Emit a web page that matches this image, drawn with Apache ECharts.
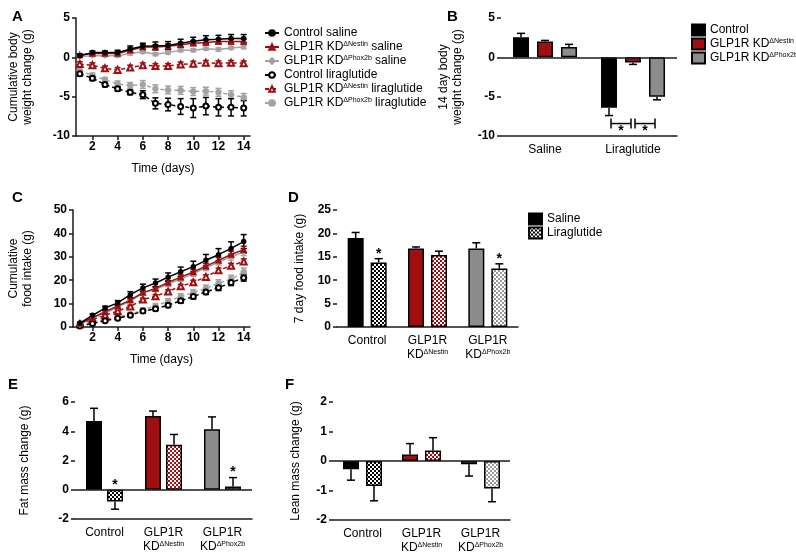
<!DOCTYPE html>
<html>
<head>
<meta charset="utf-8">
<script src="https://cdn.jsdelivr.net/npm/echarts@6/dist/echarts.min.js"></script>
<style>
  html, body { margin: 0; background: #fff; }
  #chart { width: 796px; height: 560px; }
</style>
</head>
<body>
<div id="chart"></div>
<script>
// ---- data ----
const days = [1, 2, 3, 4, 5, 6, 7, 8, 9, 10, 11, 12, 13, 14];
const dayTicks = [2, 4, 6, 8, 10, 12, 14];
const lineGroups = [
  'Control saline', 'GLP1R KDΔNestin saline', 'GLP1R KDΔPhox2b saline',
  'Control liraglutide', 'GLP1R KDΔNestin liraglutide', 'GLP1R KDΔPhox2b liraglutide',
];

// A: cumulative body weight change (g)
const weightCtrlSal = [0.2, 0.6, 0.6, 0.6, 1.05, 1.4, 1.45, 1.5, 1.8, 2.05, 2.25, 2.3, 2.4, 2.4];
const weightNesSal = [0.3, 0.5, 0.5, 0.5, 0.9, 1.3, 1.3, 1.4, 1.6, 1.8, 1.9, 2.0, 2.0, 2.0];
const weightPhoxSal = [0.1, 0.2, 0.2, 0.2, 0.5, 0.7, 0.4, 0.6, 0.9, 0.9, 1.1, 1.0, 1.2, 1.3];
const weightCtrlLira = [-2.1, -2.65, -3.45, -4.0, -4.45, -4.75, -5.85, -6.0, -6.25, -6.45, -6.2, -6.35, -6.35, -6.45];
const weightNesLira = [-0.85, -1.0, -1.4, -1.6, -1.3, -1.0, -1.1, -1.1, -0.9, -0.8, -0.7, -0.75, -0.7, -0.75];
const weightPhoxLira = [-1.65, -2.3, -2.85, -3.4, -3.6, -3.45, -4.0, -4.15, -4.2, -4.35, -4.3, -4.45, -4.75, -5.1];
const weightCtrlSalSem = [0.2, 0.2, 0.2, 0.3, 0.4, 0.4, 0.5, 0.5, 0.5, 0.5, 0.5, 0.5, 0.5, 0.5];
const weightNesSalSem = [0.15, 0.2, 0.2, 0.2, 0.3, 0.3, 0.3, 0.3, 0.3, 0.3, 0.3, 0.3, 0.3, 0.3];
const weightPhoxSalSem = [0.1, 0.1, 0.1, 0.15, 0.2, 0.2, 0.2, 0.2, 0.2, 0.2, 0.2, 0.2, 0.2, 0.2];
const weightCtrlLiraSem = [0.3, 0.3, 0.3, 0.3, 0.3, 0.5, 0.7, 0.8, 1.0, 1.2, 1.1, 1.1, 1.1, 1.0];
const weightNesLiraSem = [0.3, 0.3, 0.3, 0.3, 0.3, 0.3, 0.3, 0.3, 0.3, 0.3, 0.3, 0.3, 0.3, 0.3];
const weightPhoxLiraSem = [0.3, 0.3, 0.3, 0.4, 0.4, 0.5, 0.5, 0.5, 0.5, 0.5, 0.5, 0.5, 0.5, 0.5];

// C: cumulative food intake (g)
const foodCtrlSal = [1.7, 5.0, 8.1, 10.3, 13.8, 16.7, 18.8, 21.3, 23.6, 25.8, 28.5, 30.9, 33.6, 36.5];
const foodNesSal = [1.5, 4.0, 6.5, 9.0, 11.5, 14.7, 16.5, 19.0, 21.3, 23.5, 26.0, 28.5, 31.0, 33.0];
const foodPhoxSal = [1.3, 3.8, 6.0, 8.5, 11.0, 14.5, 16.0, 18.3, 20.5, 22.8, 25.3, 27.8, 30.0, 32.0];
const foodCtrlLira = [0.4, 1.5, 2.7, 3.7, 5.0, 6.8, 7.8, 9.3, 11.2, 13.0, 15.0, 16.8, 19.0, 21.0];
const foodNesLira = [1.2, 3.2, 5.0, 6.8, 8.8, 11.7, 13.1, 15.2, 17.4, 19.1, 21.4, 24.2, 26.2, 28.0];
const foodPhoxLira = [0.6, 2.2, 3.2, 4.2, 5.5, 7.2, 9.0, 11.0, 13.0, 14.7, 16.5, 18.7, 20.5, 23.5];
const foodCtrlSalSem = [0.3, 0.6, 0.8, 1.0, 1.3, 1.6, 1.7, 1.8, 2.0, 2.3, 2.5, 2.6, 2.8, 3.0];
const foodNesSalSem = [0.2, 0.3, 0.4, 0.5, 0.6, 0.7, 0.8, 0.9, 1.0, 1.1, 1.2, 1.3, 1.4, 1.5];
const foodPhoxSalSem = [0.2, 0.3, 0.4, 0.5, 0.6, 0.7, 0.8, 0.9, 1.0, 1.1, 1.2, 1.3, 1.4, 1.5];
const foodCtrlLiraSem = [0.2, 0.3, 0.4, 0.5, 0.6, 0.7, 0.8, 0.9, 1.0, 1.0, 1.1, 1.2, 1.3, 1.4];
const foodNesLiraSem = [0.2, 0.3, 0.4, 0.5, 0.5, 0.6, 0.7, 0.7, 0.8, 0.9, 0.9, 1.0, 1.0, 1.1];
const foodPhoxLiraSem = [0.3, 0.4, 0.5, 0.6, 0.7, 0.9, 1.0, 1.1, 1.2, 1.3, 1.4, 1.5, 1.6, 1.7];

// B: 14 day body weight change (g), per genotype: [saline, liraglutide]
const treatments = ['Saline', 'Liraglutide'];
const genotypes = ['Control', 'GLP1R KDΔNestin', 'GLP1R KDΔPhox2b'];
const weight14Ctrl = [2.55, -6.4];
const weight14Nes = [2.0, -0.65];
const weight14Phox = [1.3, -5.0];
const weight14CtrlSem = [0.5, 1.0];
const weight14NesSem = [0.15, 0.25];
const weight14PhoxSem = [0.35, 0.4];
const weight14SigPairs = [[0, 1], [1, 2]]; // within Liraglutide

// D, E, F: per genotype
const intakeSal = [19.0, 16.8, 16.8];
const intakeSalSem = [1.2, 0.3, 1.2];
const intakeLira = [13.8, 15.4, 12.5];
const intakeLiraSem = [0.8, 0.8, 1.0];
const intakeSig = [true, false, true];

const fatSal = [4.7, 5.05, 4.13];
const fatSalSem = [0.87, 0.33, 0.85];
const fatLira = [-0.8, 3.08, 0.23];
const fatLiraSem = [0.53, 0.7, 0.6];
const fatSig = [true, false, true];

const leanSal = [-0.28, 0.22, -0.11];
const leanSalSem = [0.37, 0.37, 0.4];
const leanLira = [-0.85, 0.36, -0.93];
const leanLiraSem = [0.5, 0.43, 0.45];

// ---- styling ----
const FONT = '"Liberation Sans", Arial, Helvetica, sans-serif';
const AX = '#1a1a1a';
const RED = '#a00f10';
const GRAY = '#8c8c8c';
const LGRAY = '#a3a3a3';
const genoColors = ['#000', RED, GRAY];
const BAR_W = 16;

function checker(color) {
  const c = document.createElement('canvas');
  c.width = 4;
  c.height = 4;
  const ctx = c.getContext('2d');
  ctx.fillStyle = '#fff';
  ctx.fillRect(0, 0, 4, 4);
  ctx.fillStyle = color;
  ctx.fillRect(0, 0, 2, 2);
  ctx.fillRect(2, 2, 2, 2);
  return { image: c, repeat: 'repeat' };
}

const supRich = {
  s: { fontSize: 7, lineHeight: 8, padding: [0, 0, 6, 0], fontFamily: FONT, color: '#000' },
};
const supFmt = (t) => t.replace(/(Δ\S+)/, '{s|$1}');

const lineStyles = [
  { color: '#000', dash: 'solid', symbol: 'circle', size: 4 },
  { color: RED, dash: 'solid', symbol: 'triangle', size: 5 },
  { color: LGRAY, dash: 'solid', symbol: 'diamond', size: 4 },
  { color: '#000', dash: [4, 3], symbol: 'emptyCircle', size: 5 },
  { color: RED, dash: [4, 3], symbol: 'emptyTriangle', size: 6 },
  { color: LGRAY, dash: [4, 3], symbol: 'circle', size: 5 },
];

const axisLine = { onZero: false, lineStyle: { color: AX, width: 1.5 } };
const tickStyle = { color: AX, width: 1.5 };

function valueY(grid, min, max, interval, name, gap) {
  return {
    type: 'value', gridIndex: grid, min, max, interval,
    name, nameLocation: 'middle', nameGap: gap, nameRotate: 90,
    nameTextStyle: { fontSize: 12, lineHeight: 14, color: '#000', fontFamily: FONT },
    axisLabel: { fontSize: 12, fontWeight: 'bold', color: '#000', margin: 6, fontFamily: FONT },
    axisLine, axisTick: { show: true, length: 4, lineStyle: tickStyle },
    splitLine: { show: false },
  };
}

function dayX(grid, min) {
  return {
    type: 'value', gridIndex: grid, min, max: 14.5,
    name: 'Time (days)', nameLocation: 'middle', nameGap: 27,
    nameTextStyle: { fontSize: 12, color: '#000', fontFamily: FONT },
    axisLabel: { customValues: dayTicks, fontSize: 12, fontWeight: 'bold', color: '#000', margin: 5, fontFamily: FONT },
    axisTick: { customValues: dayTicks, length: 4, lineStyle: tickStyle },
    axisLine, splitLine: { show: false },
  };
}

function catX(grid, data) {
  return {
    type: 'category', gridIndex: grid, data,
    axisTick: { alignWithLabel: true, length: 4, lineStyle: tickStyle },
    axisLabel: {
      interval: 0, fontSize: 12, color: '#000', margin: 7, lineHeight: 14, fontFamily: FONT,
      formatter: (v) => supFmt(v.replace('GLP1R ', 'GLP1R\n')),
      rich: supRich,
    },
    axisLine, splitLine: { show: false },
  };
}

// ---- series builders ----
function lineSeries(axis, groupIdx, mean) {
  const st = lineStyles[groupIdx];
  return {
    type: 'line', name: lineGroups[groupIdx], xAxisIndex: axis, yAxisIndex: axis,
    data: days.map((d, i) => [d, mean[i]]),
    symbol: st.symbol, symbolSize: st.size, z: 3,
    lineStyle: { color: st.color, width: 1.5, type: st.dash },
    itemStyle: { color: st.color, borderColor: st.color, borderWidth: 1.5 },
  };
}

function lineErr(axis, groupIdx, mean, sem) {
  const color = lineStyles[groupIdx].color;
  return {
    type: 'custom', xAxisIndex: axis, yAxisIndex: axis, z: 2, silent: true,
    data: days.map((d, i) => [d, mean[i], sem[i]]),
    encode: { x: 0, y: 1 },
    renderItem(params, api) {
      const x = api.value(0), m = api.value(1), e = api.value(2);
      const top = api.coord([x, m + e]);
      const bot = api.coord([x, m - e]);
      const style = { stroke: color, lineWidth: 1.5 };
      return {
        type: 'group', children: [
          { type: 'line', shape: { x1: top[0], y1: top[1], x2: bot[0], y2: bot[1] }, style },
          { type: 'line', shape: { x1: top[0] - 3, y1: top[1], x2: top[0] + 3, y2: top[1] }, style },
          { type: 'line', shape: { x1: bot[0] - 3, y1: bot[1], x2: bot[0] + 3, y2: bot[1] }, style },
        ],
      };
    },
  };
}

const slotOffset = (slot, n, gap) => (slot - (n - 1) / 2) * (BAR_W + gap);

function barSeries(axis, name, values, colors, gap, baseColor, zeroLine) {
  const s = {
    type: 'bar', name, xAxisIndex: axis, yAxisIndex: axis,
    barWidth: BAR_W, barGap: (gap / BAR_W * 100) + '%',
    data: values.map((v, i) => ({ value: v, itemStyle: { color: colors[i] } })),
    itemStyle: { color: baseColor, borderColor: '#000', borderWidth: 1.5 },
    z: 2,
  };
  if (zeroLine) {
    s.markLine = {
      silent: true, symbol: 'none', label: { show: false },
      lineStyle: { color: AX, width: 1.5, type: 'solid' },
      data: [{ yAxis: 0 }],
    };
  }
  return s;
}

function barErr(axis, values, sem, slot, n, gap) {
  return {
    type: 'custom', xAxisIndex: axis, yAxisIndex: axis, z: 4, silent: true,
    data: values.map((v, i) => [i, v, sem[i]]),
    encode: { x: 0, y: 1 },
    renderItem(params, api) {
      const i = api.value(0), v = api.value(1), e = api.value(2);
      const end = v < 0 ? v - e : v + e;
      const p0 = api.coord([i, v]);
      const p1 = api.coord([i, end]);
      const x = p0[0] + slotOffset(slot, n, gap);
      const style = { stroke: '#000', lineWidth: 1.5 };
      return {
        type: 'group', children: [
          { type: 'line', shape: { x1: x, y1: p0[1], x2: x, y2: p1[1] }, style },
          { type: 'line', shape: { x1: x - 4, y1: p1[1], x2: x + 4, y2: p1[1] }, style },
        ],
      };
    },
  };
}

function starSeries(axis, values, sem, sig, slot, n, gap) {
  const data = [];
  values.forEach((v, i) => { if (sig[i]) data.push([i, Math.max(0, v + sem[i])]); });
  return {
    type: 'custom', xAxisIndex: axis, yAxisIndex: axis, z: 5, silent: true,
    data, encode: { x: 0, y: 1 },
    renderItem(params, api) {
      const p = api.coord([api.value(0), api.value(1)]);
      return {
        type: 'text', x: p[0] + slotOffset(slot, n, gap), y: p[1] - 5,
        style: {
          text: '*', font: 'bold 14px ' + FONT, fill: '#000',
          align: 'center', verticalAlign: 'middle', textAlign: 'center', textVerticalAlign: 'middle',
        },
      };
    },
  };
}

// ---- build ----
const series = [];
const weightMeans = [weightCtrlSal, weightNesSal, weightPhoxSal, weightCtrlLira, weightNesLira, weightPhoxLira];
const weightSems = [weightCtrlSalSem, weightNesSalSem, weightPhoxSalSem, weightCtrlLiraSem, weightNesLiraSem, weightPhoxLiraSem];
const foodMeans = [foodCtrlSal, foodNesSal, foodPhoxSal, foodCtrlLira, foodNesLira, foodPhoxLira];
const foodSems = [foodCtrlSalSem, foodNesSalSem, foodPhoxSalSem, foodCtrlLiraSem, foodNesLiraSem, foodPhoxLiraSem];
const drawOrder = [5, 4, 3, 2, 1, 0];
drawOrder.forEach((g) => {
  series.push(lineErr(0, g, weightMeans[g], weightSems[g]));
  series.push(lineSeries(0, g, weightMeans[g]));
  series.push(lineErr(2, g, foodMeans[g], foodSems[g]));
  series.push(lineSeries(2, g, foodMeans[g]));
});

// B
const GAP_B = 8;
const w14 = [weight14Ctrl, weight14Nes, weight14Phox];
const w14Sem = [weight14CtrlSem, weight14NesSem, weight14PhoxSem];
genotypes.forEach((g, k) => {
  series.push(barSeries(1, g, w14[k], [genoColors[k], genoColors[k]], GAP_B, genoColors[k], k === 0));
  series.push(barErr(1, w14[k], w14Sem[k], k, 3, GAP_B));
});
const liraLow = Math.min(...w14.map((v, k) => v[1] - w14Sem[k][1]));
series.push({
  type: 'custom', xAxisIndex: 1, yAxisIndex: 1, z: 5, silent: true,
  data: weight14SigPairs.map((p) => [1, liraLow, p[0], p[1]]),
  encode: { x: 0, y: 1 },
  renderItem(params, api) {
    const base = api.coord([api.value(0), api.value(1)]);
    const y = base[1] + 8;
    const x1 = base[0] + slotOffset(api.value(2), 3, GAP_B) + 2;
    const x2 = base[0] + slotOffset(api.value(3), 3, GAP_B) - 2;
    const style = { stroke: '#000', lineWidth: 1.5 };
    return {
      type: 'group', children: [
        { type: 'line', shape: { x1, y1: y, x2, y2: y }, style },
        { type: 'line', shape: { x1, y1: y - 5, x2: x1, y2: y + 5 }, style },
        { type: 'line', shape: { x1: x2, y1: y - 5, x2, y2: y + 5 }, style },
        {
          type: 'text', x: (x1 + x2) / 2, y: y + 8,
          style: { text: '*', font: 'bold 14px ' + FONT, fill: '#000', align: 'center', verticalAlign: 'middle' },
        },
      ],
    };
  },
});

// D, E, F
const pairPanels = [
  { axis: 3, sal: intakeSal, salSem: intakeSalSem, lira: intakeLira, liraSem: intakeLiraSem, sig: intakeSig, gap: 7, zero: false },
  { axis: 4, sal: fatSal, salSem: fatSalSem, lira: fatLira, liraSem: fatLiraSem, sig: fatSig, gap: 5, zero: true },
  { axis: 5, sal: leanSal, salSem: leanSalSem, lira: leanLira, liraSem: leanLiraSem, sig: null, gap: 7, zero: true },
];
pairPanels.forEach((p) => {
  series.push(barSeries(p.axis, 'Saline', p.sal, genoColors, p.gap, '#000', p.zero));
  series.push(barSeries(p.axis, 'Liraglutide', p.lira, genoColors.map((c, i) => checker(i === 2 ? '#9a9a9a' : c)), p.gap, checker('#000'), false));
  series.push(barErr(p.axis, p.sal, p.salSem, 0, 2, p.gap));
  series.push(barErr(p.axis, p.lira, p.liraSem, 1, 2, p.gap));
  if (p.sig) series.push(starSeries(p.axis, p.lira, p.liraSem, p.sig, 1, 2, p.gap));
});

const letter = (t, left, top) => ({
  type: 'text', left, top, style: { text: t, font: 'bold 15px ' + FONT, fill: '#000' },
});

const option = {
  animation: false,
  backgroundColor: '#fff',
  textStyle: { fontFamily: FONT },
  grid: [
    { left: 76, top: 18, width: 174, height: 118 },
    { left: 501, top: 18, width: 176, height: 118 },
    { left: 73, top: 210, width: 177, height: 117 },
    { left: 337, top: 210, width: 181, height: 117 },
    { left: 75, top: 402, width: 177, height: 117 },
    { left: 333, top: 402, width: 177, height: 118 },
  ],
  xAxis: [
    dayX(0, 0.7),
    catX(1, treatments),
    dayX(2, 0.45),
    catX(3, genotypes),
    catX(4, genotypes),
    catX(5, genotypes),
  ],
  yAxis: [
    valueY(0, -10, 5, 5, 'Cumulative body\nweight change (g)', 41),
    valueY(1, -10, 5, 5, '14 day body\nweight change (g)', 36),
    valueY(2, 0, 50, 10, 'Cumulative\nfood intake (g)', 38),
    valueY(3, 0, 25, 5, '7 day food intake (g)', 30),
    valueY(4, -2, 6, 2, 'Fat mass change (g)', 43),
    valueY(5, -2, 2, 1, 'Lean mass change (g)', 30),
  ],
  legend: [
    {
      data: lineGroups, orient: 'vertical', left: 259, top: 21,
      itemWidth: 14, itemHeight: 7, itemGap: 0, selectedMode: false,
      formatter: supFmt,
      textStyle: { fontSize: 12, lineHeight: 14, color: '#000', fontFamily: FONT, rich: supRich },
    },
    {
      data: genotypes, orient: 'vertical', left: 686, top: 18, icon: 'rect',
      itemWidth: 13, itemHeight: 11, itemGap: 0, selectedMode: false,
      formatter: supFmt,
      textStyle: { fontSize: 12, lineHeight: 14, color: '#000', fontFamily: FONT, rich: supRich },
    },
    {
      data: ['Saline', 'Liraglutide'], orient: 'vertical', left: 523, top: 207, icon: 'rect',
      itemWidth: 13, itemHeight: 11, itemGap: 0, selectedMode: false,
      textStyle: { fontSize: 12, lineHeight: 14, color: '#000', fontFamily: FONT },
    },
  ],
  graphic: [
    letter('A', 12, 9),
    letter('B', 447, 9),
    letter('C', 12, 190),
    letter('D', 288, 190),
    letter('E', 8, 377),
    letter('F', 285, 377),
  ],
  series,
};

const chart = echarts.init(document.getElementById('chart'));
chart.setOption(option);
</script>
</body>
</html>
